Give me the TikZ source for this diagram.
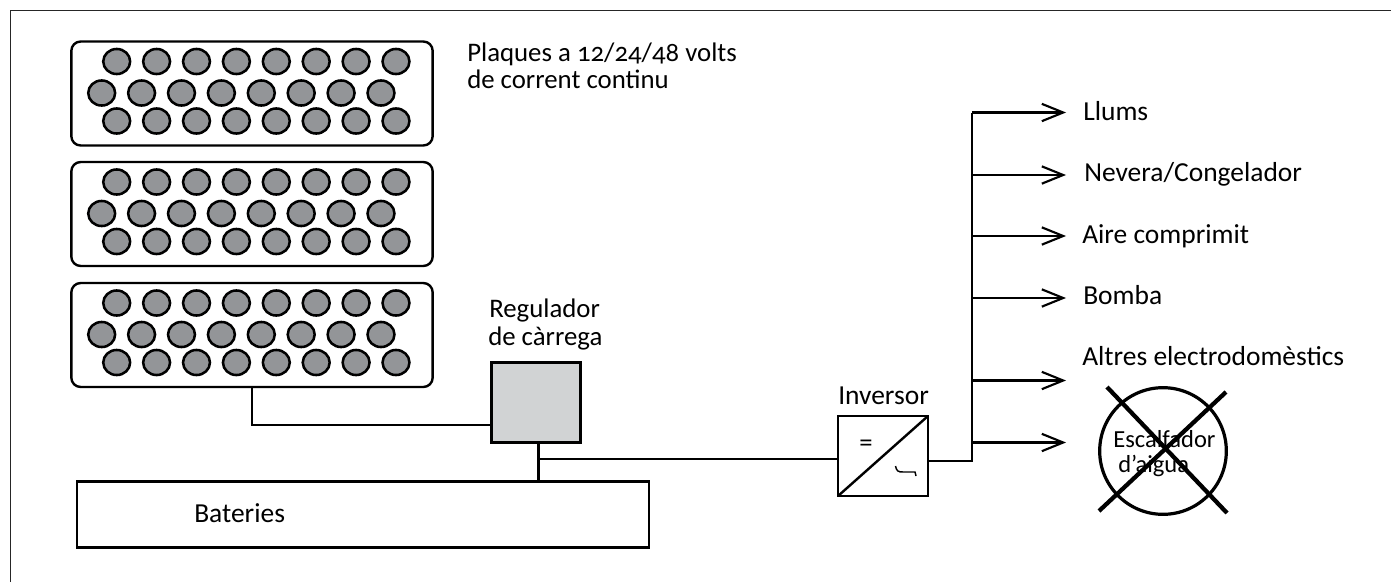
\documentclass[tikz,border=0pt]{standalone}
\usepackage{fontspec}
\setmainfont[Numbers=OldStyle]{Carlito}
\usetikzlibrary{arrows.meta,shapes.geometric}
\definecolor{cellgrey}{HTML}{939598}
\definecolor{boxgrey}{HTML}{D1D3D4}
\tikzset{
  x=0.75pt,y=-0.75pt,
  wire/.style={line width=1.8pt,black},
  thickbox/.style={draw=black,line width=1.8pt,inner sep=0pt,outer sep=0pt},
  panel/.style={thickbox,rounded corners=7pt,minimum width=271pt,minimum height=78pt},
  cell/.style={draw=black,line width=1.9pt,fill=cellgrey,ellipse,inner sep=0pt,outer sep=0pt,minimum width=20.2pt,minimum height=18.8pt},
  lab/.style={anchor=base west,inner sep=0pt,font=\fontsize{20.6}{20.6}\selectfont},
  labsmall/.style={lab,font=\fontsize{20.1}{20.1}\selectfont},
  labheat/.style={lab,font=\fontsize{18.4}{18.4}\selectfont},
  feed/.style={wire,-{Straight Barb[length=16pt,width=13pt,line width=1.6pt]}},
  cross/.style={line width=3.2pt,black},
}
\begin{document}
\begin{tikzpicture}
\useasboundingbox (0,0) rectangle (1391,582);
\fill[white] (0,0) rectangle (1391,582);
\draw[line width=0.8pt,black!85] (10.5,582) -- (10.5,10.5) -- (1391,10.5);
% panels
\foreach \n/\cy in {a/93.5,b/214,c/335}{
  \node[panel] (panel\n) at (252,\cy) {};
  \foreach \i in {0,...,7}{
    \node[cell] (cell\n1\i) at ({116.7+39.9*\i},{\cy-32}) {};
    \node[cell] (cell\n2\i) at ({101.7+39.9*\i},{\cy-0.5}) {};
    \node[cell] (cell\n3\i) at ({116.7+39.9*\i},{\cy+27.5}) {};
  }
}
% boxes
\node[thickbox,fill=boxgrey,minimum width=67pt,minimum height=60pt] (reg) at (536,402.5) {};
\node[thickbox,minimum width=429pt,minimum height=49.5pt] (bat) at (363,514.5) {};
\node[thickbox,minimum width=67.5pt,minimum height=60pt] (inv) at (883,456) {};
\draw[wire] (inv.south west) -- (inv.north east);
\node[inner sep=0pt,font=\fontsize{20}{20}\selectfont] (eq) at (866,446) {=};
\draw[line width=1.1pt] (895.5,466) .. controls (896.5,471) and (898,472) .. (903,472) -- (915,472) -- (916,476);
% wires
\coordinate (bend1) at (252,425);
\coordinate (tap) at (538.5,459);
\coordinate (jct) at (972,461);
\coordinate (top) at (972,112.5);
\draw[wire] (panelc.south -| bend1) -- (bend1) -- (reg.west |- bend1);
\draw[wire] (reg.south -| tap) -- (bat.north -| tap);
\draw[wire] (tap) -- (inv.west |- tap);
\draw[wire,line join=miter] (inv.east |- jct) -- (jct) -- (top);
\foreach \nm/\y in {l/112.5,n/175,a/236,b/298,o/380.5,e/442.5}{
  \coordinate (s\nm) at (972,\y);
  \coordinate (t\nm) at (1066,\y);
  \draw[feed] (s\nm) -- (t\nm);
}
% heater
\node[draw=black,line width=2.4pt,circle,minimum size=95pt,inner sep=0pt] (heater) at (1163,451) {};
\node[labheat] (esc) at (1113,447) {Escalfador};
\node[labheat] (dai) at (1118,472) {d’aigua};
\coordinate (x1) at (1107,387); \coordinate (x2) at (1227,513);
\coordinate (x3) at (1099,511); \coordinate (x4) at (1226,392);
\draw[cross] (x1) -- (x2);
\draw[cross] (x3) -- (x4);
% labels
\node[labsmall] (t1) at (467,61.5) {Plaques a 12/24/48 volts};
\node[labsmall] (t2) at (467,88) {de corrent continu};
\node[labsmall] (t3) at (489,317) {Regulador};
\node[labsmall] (t4) at (488,345) {de càrrega};
\node[lab] (t5) at (838,404) {Inversor};
\node[lab] (t6) at (194,522) {Bateries};
\node[lab] (t7) at (1083,120) {Llums};
\node[lab] (t8) at (1084,181) {Nevera/Congelador};
\node[lab] (t9) at (1082,243) {Aire comprimit};
\node[lab] (t10) at (1083,304) {Bomba};
\node[lab] (t11) at (1082,365) {Altres electrodomèstics};
\end{tikzpicture}
\end{document}
